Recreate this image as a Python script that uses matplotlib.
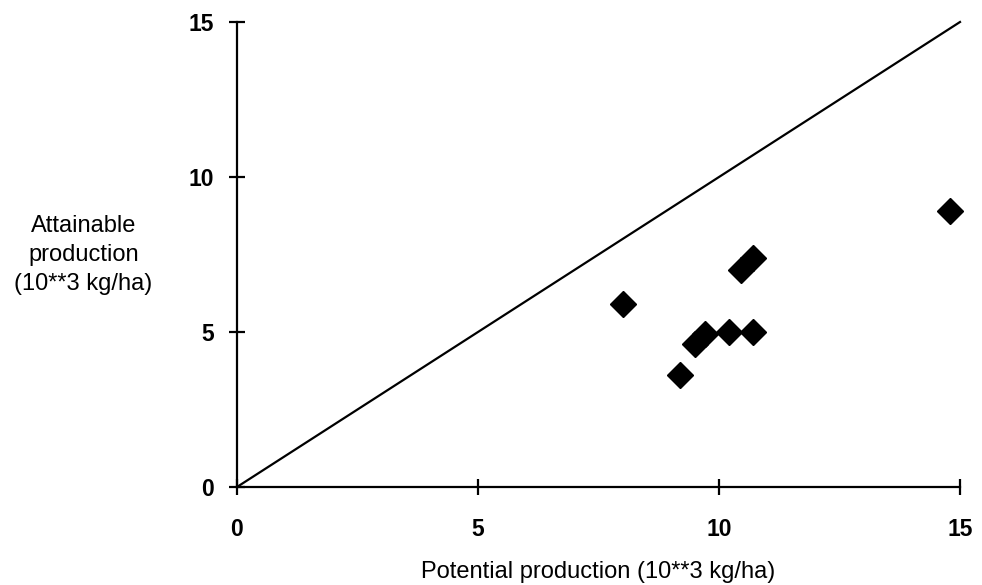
import matplotlib
matplotlib.use("Agg")
import matplotlib.pyplot as plt

plt.rcParams['font.family'] = ['Liberation Sans', 'DejaVu Sans']

potential = [8.0, 9.2, 9.5, 9.7, 10.2, 10.7, 10.45, 10.7, 14.8]
attainable = [5.9, 3.6, 4.6, 4.95, 5.0, 5.0, 7.0, 7.4, 8.9]
line_x = [0, 15]
line_y = [0, 15]
ticks = [0, 5, 10, 15]

fig = plt.figure(figsize=(9.82, 5.85), dpi=100)
ax = fig.add_axes([0.2413, 0.1675, 0.9776 - 0.2413, 0.9624 - 0.1675])
ax.plot(line_x, line_y, color='black', lw=1.6)
ax.plot(potential, attainable, linestyle='none', marker='D', markersize=13,
        color='black')
ax.set_xlim(0, 15)
ax.set_ylim(0, 15)
ax.set_xticks(ticks)
ax.set_yticks(ticks)
for s in ['top', 'right']:
    ax.spines[s].set_visible(False)
for s in ['left', 'bottom']:
    ax.spines[s].set_linewidth(1.6)
ax.tick_params(direction='inout', length=11, width=1.6, labelsize=16.5)
ax.tick_params(axis='x', pad=17)
ax.tick_params(axis='y', pad=11)
for lab in ax.get_xticklabels() + ax.get_yticklabels():
    lab.set_fontweight('bold')
ax.set_xlabel('Potential production (10**3 kg/ha)', fontsize=17, labelpad=14)
fig.text(0.085, 0.564, 'Attainable\nproduction\n(10**3 kg/ha)', ha='center',
         va='center', fontsize=17, linespacing=1.4)
for l in ax.lines:
    l.set_clip_on(False)

fig.savefig('out.png', dpi=100)
